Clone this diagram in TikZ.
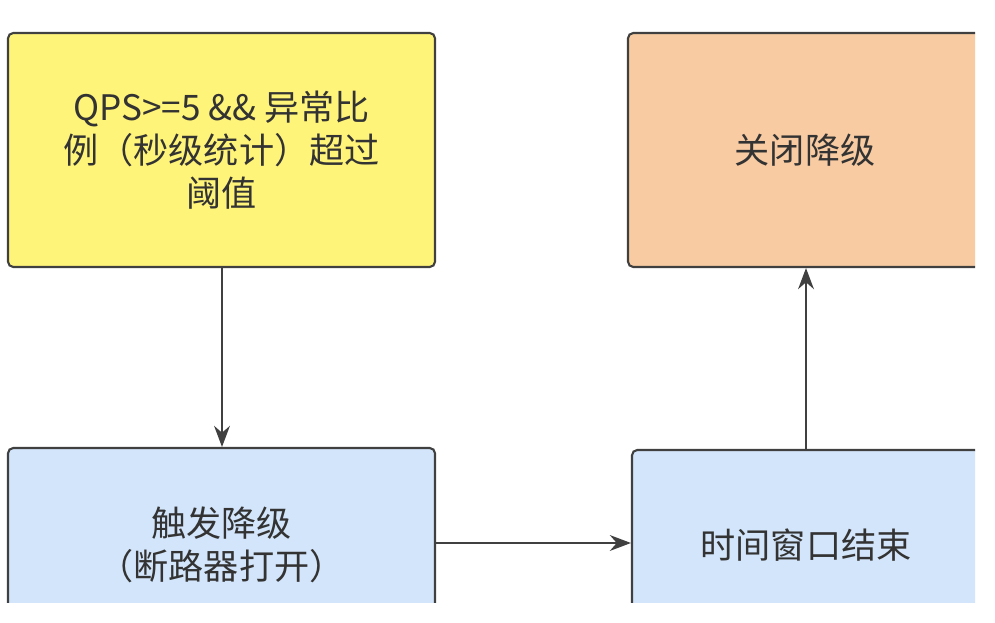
\documentclass[tikz,border=0pt]{standalone}
\usepackage{fontspec}
\setmainfont{Noto Sans CJK SC}
\usetikzlibrary{arrows.meta}
\definecolor{padyel}{HTML}{FFF47A}
\definecolor{padora}{HTML}{F8CBA2}
\definecolor{padblu}{HTML}{D3E5FA}

\begin{document}
\begin{tikzpicture}[
box/.style={rectangle, rounded corners=3pt, draw=black!75, line width=1.2pt, text=black!80, font=\fontsize{20}{24.5}\selectfont, align=center},
yel/.style={box, fill=padyel},
ora/.style={box, fill=padora},
blu/.style={box, fill=padblu},
flow/.style={-{Stealth[length=12pt,width=9pt]}, line width=1.1pt, black!75},
]
\useasboundingbox (0,0) rectangle (19.9,12.44);
\begin{scope}
\clip (0,0.4) rectangle (19.5,12.44);

%upper row
\node(thres)[yel, minimum width=8.54cm, minimum height=4.68cm] at (4.43,9.44)
  {QPS>=5 \&\& 异常比\\例（秒级统计）超过\\阈值};
\node(close)[ora, minimum width=7.08cm, minimum height=4.68cm] at (16.1,9.44) {关闭降级};

%lower row
\node(open)[blu, minimum width=8.54cm, minimum height=3.88cm] at (4.43,1.54) {触发降级\\（断路器打开）};
\node(window)[blu, minimum width=6.96cm, minimum height=3.8cm] at (16.12,1.54) {时间窗口结束};
\end{scope}

\draw[flow] (thres.south -| 4.44,0) -- (open.north -| 4.44,0);
\draw[flow] (open.east |- 0,1.58) -- (window.west |- 0,1.58);
\draw[flow] (window.north) -- (close.south -| window.north);
\end{tikzpicture}
\end{document}
